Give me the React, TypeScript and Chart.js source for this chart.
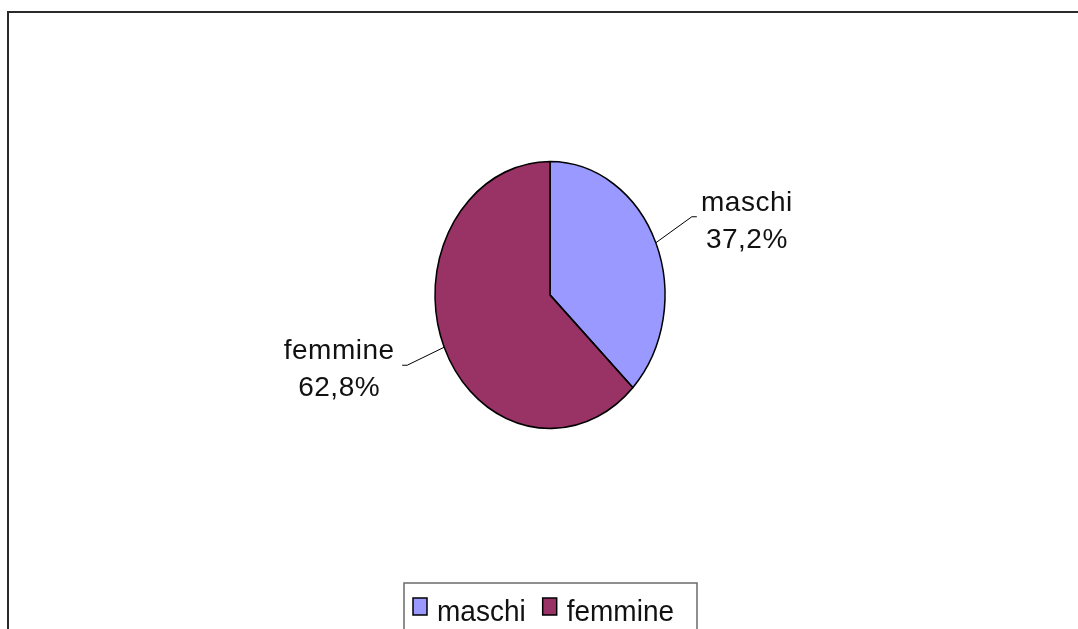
import React, { useEffect, useRef } from "react";
import { Chart, registerables } from "chart.js";

Chart.register(...registerables);

const categories = ["maschi", "femmine"];
const values = [37.2, 62.8];
const sliceColors = ["#9999FF", "#993366"];

const W = 1078;
const H = 629;
const ELLIPSE_Y = 133.5 / 115;
const LABEL_FONT = "28px 'Liberation Sans', Arial, sans-serif";
const LEGEND_FONT = "28px 'Liberation Sans', Arial, sans-serif";

function pct(v: number): string {
  return v.toFixed(1).replace(".", ",") + "%";
}

const ellipsePlugin = {
  id: "ellipse",
  beforeDatasetsDraw(chart: any) {
    const arc = chart.getDatasetMeta(0).data[0];
    if (!arc) return;
    const ctx = chart.ctx;
    ctx.save();
    ctx.translate(arc.x, arc.y);
    ctx.scale(1, ELLIPSE_Y);
    ctx.translate(-arc.x, -arc.y);
  },
  afterDatasetsDraw(chart: any) {
    chart.ctx.restore();
  },
};

const framePlugin = {
  id: "frame",
  beforeDraw(chart: any) {
    const ctx = chart.ctx;
    ctx.save();
    ctx.fillStyle = "#ffffff";
    ctx.fillRect(0, 0, W, H);
    ctx.strokeStyle = "#2a2a2a";
    ctx.lineWidth = 2;
    ctx.strokeRect(8, 12, 1200, 800);
    ctx.restore();
  },
};

function stretchedText(ctx: any, text: string, x: number, y: number, sy: number) {
  ctx.save();
  ctx.translate(x, y);
  ctx.scale(1, sy);
  ctx.fillText(text, 0, 0);
  ctx.restore();
}

const labelsPlugin = {
  id: "sliceLabels",
  afterDraw(chart: any) {
    const ctx = chart.ctx;
    const meta = chart.getDatasetMeta(0);
    const data = chart.data.datasets[0].data as number[];
    const leaders = [
      { dx: 36, dy: -26, tx: 55, ty: -6 },
      { dx: -37, dy: 18, tx: -68, ty: -6 },
    ];
    ctx.save();
    meta.data.forEach((arc: any, i: number) => {
      const mid = (arc.startAngle + arc.endAngle) / 2;
      const r = arc.outerRadius;
      const px = arc.x + r * Math.cos(mid);
      const py = arc.y + r * ELLIPSE_Y * Math.sin(mid);
      const L = leaders[i];
      const ex = px + L.dx;
      const ey = py + L.dy;
      const side = Math.cos(mid) >= 0 ? 1 : -1;
      ctx.strokeStyle = "#000";
      ctx.lineWidth = 1;
      ctx.beginPath();
      ctx.moveTo(px, py);
      ctx.lineTo(ex, ey);
      ctx.lineTo(ex + side * 5, ey);
      ctx.stroke();
      ctx.fillStyle = "#111";
      ctx.font = LABEL_FONT;
      (ctx as any).letterSpacing = "0.5px";
      ctx.textAlign = "center";
      ctx.textBaseline = "alphabetic";
      const cxText = ex + L.tx;
      stretchedText(ctx, chart.data.labels[i], cxText, ey + L.ty, 1.0);
      stretchedText(ctx, pct(data[i]), cxText, ey + L.ty + 37, 1.0);
    });
    ctx.restore();
  },
};

const legendPlugin = {
  id: "boxLegend",
  afterDraw(chart: any) {
    const ctx = chart.ctx;
    const colors = chart.data.datasets[0].backgroundColor as string[];
    ctx.save();
    ctx.strokeStyle = "#6a6a6a";
    ctx.lineWidth = 1.5;
    ctx.strokeRect(404, 583, 293, 80);
    ctx.font = LEGEND_FONT;
    ctx.textAlign = "left";
    ctx.textBaseline = "alphabetic";
    let x = 413;
    (chart.data.labels as string[]).forEach((lab, i) => {
      ctx.fillStyle = colors[i];
      ctx.fillRect(x, 598, 14, 17);
      ctx.strokeStyle = "#000";
      ctx.lineWidth = 1.5;
      ctx.strokeRect(x, 598, 14, 17);
      ctx.fillStyle = "#111";
      const tx = x + 24;
      stretchedText(ctx, lab, tx, 621, 1.08);
      x = tx + ctx.measureText(lab).width + 17;
    });
    ctx.restore();
  },
};

export default function App() {
  const ref = useRef<HTMLCanvasElement | null>(null);
  useEffect(() => {
    if (!ref.current) return;
    const chart = new Chart(ref.current, {
      type: "pie",
      data: {
        labels: categories,
        datasets: [
          {
            data: values,
            backgroundColor: sliceColors,
            borderColor: "#000",
            borderWidth: 1.5,
          },
        ],
      },
      options: {
        responsive: false,
        animation: false,
        radius: 115,
        layout: { padding: { left: 435, right: 413, top: 180, bottom: 219 } },
        plugins: {
          legend: { display: false },
          tooltip: { enabled: false },
        },
      } as any,
      plugins: [framePlugin, ellipsePlugin, labelsPlugin, legendPlugin],
    });
    return () => chart.destroy();
  }, []);
  return (
    <div style={{ position: "fixed", left: 0, top: 0, width: W, height: H }}>
      <canvas ref={ref} width={W} height={H} style={{ display: "block" }} />
    </div>
  );
}
